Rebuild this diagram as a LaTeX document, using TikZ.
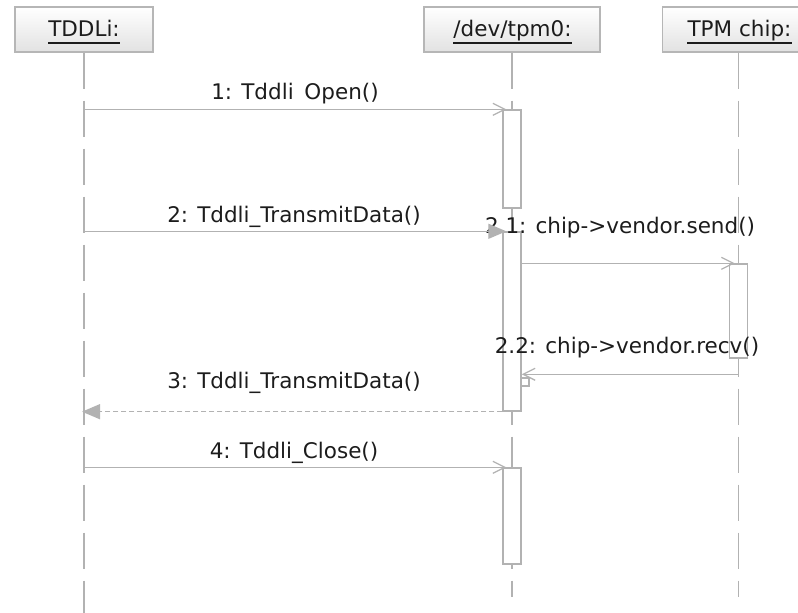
\documentclass[tikz,border=0pt]{standalone}
\usepackage{fontspec}
\setmainfont{DejaVu Sans}
\usetikzlibrary{arrows.meta}

\definecolor{linegray}{RGB}{178,178,178}
\definecolor{boxedge}{RGB}{182,182,182}
\definecolor{shadebot}{RGB}{226,226,226}
\definecolor{ink}{RGB}{28,28,28}

\begin{document}
\begin{tikzpicture}[x=1pt,y=-1pt,
  every node/.style={font=\fontsize{21.5}{26}\selectfont, text=ink},
  header/.style={draw=boxedge, line width=1.2pt, top color=white, bottom color=shadebot,
    minimum height=45pt, inner sep=0pt},
  htext/.style={inner sep=0pt, anchor=base},
  uline/.style={draw=ink, line width=1.8pt},
  lifeline/.style={draw=linegray, line width=1.8pt, dash pattern=on 36.5pt off 11.5pt},
  actbar/.style={draw=linegray, fill=white, line width=1.4pt, minimum width=18pt, inner sep=0pt},
  msg/.style={draw=linegray, line width=1.3pt},
  call/.style={msg, -{Straight Barb[length=12pt,width=12pt,line width=1.3pt]}},
  sync/.style={msg, -{Triangle[length=18pt,width=15pt]}},
  reply/.style={msg, dash pattern=on 5pt off 3pt, -{Triangle[length=18pt,width=15pt]}},
  mlabel/.style={inner sep=0pt, anchor=base},
]
\useasboundingbox (0,0) rectangle (798,613);
\clip (0,0) rectangle (798,613);

% participants
\node[header, minimum width=138pt] (hA) at (84,29.5) {};
\node[header, minimum width=176pt] (hB) at (512,29.5) {};
\node[header, minimum width=152pt] (hC) at (738.5,29.5) {};

\node[htext] (tA) at (84,36) {TDDLi:};
\node[htext] (tB) at (512.5,36) {/dev/tpm0:};
\node[htext] (tC) at (739.5,36) {TPM chip:};
\foreach \t in {tA,tB,tC}
  \draw[uline] ([yshift=-7pt]\t.base west) -- ([yshift=-7pt]\t.base east);

% lifelines
\coordinate (endA) at (84,630);
\coordinate (endB) at (512,597);
\coordinate (endC) at (738.5,597);
\draw[lifeline] (hA.south) -- (endA);
\draw[lifeline] (hB.south) -- (endB);
\draw[lifeline] (hC.south) -- (endC);

% activation bars
\node[actbar, minimum height=98pt]  (b1) at (512,159) {};
\node[actbar, minimum height=179pt] (b2) at (512,321.5) {};
\node[actbar, minimum height=96pt]  (b3) at (512,516) {};
\node[actbar, minimum height=94pt]  (bc) at (738.5,311) {};
\node[actbar, minimum width=8pt, minimum height=8pt] (bs) at (525,382) {};

% message labels
\node[mlabel] (l1)  at (295,99)  {1: Tddli\phantom{\_}Open()};
\node[mlabel] (l2)  at (294,222) {2: Tddli\_TransmitData()};
\node[mlabel] (l21) at (620,233) {2.1: chip->vendor.send()};
\node[mlabel] (l22) at (627,353) {2.2: chip->vendor.recv()};
\node[mlabel] (l3)  at (294,388) {3: Tddli\_TransmitData()};
\node[mlabel] (l4)  at (294,458) {4: Tddli\_Close()};

% messages
\draw[call]  (hA.south |- b1.north) -- ([xshift=4pt]b1.north west);
\draw[sync]  (hA.south |- b2.north) -- ([xshift=4pt]b2.north west);
\draw[call]  (b2.east |- bc.north) -- ([xshift=6pt]bc.north west);
\draw[call]  (bc.south) |- ([yshift=3pt]b2.east |- bs.north);
\draw[reply] (b2.south west) -- ([xshift=-2pt]hA.south |- b2.south);
\draw[call]  (hA.south |- b3.north) -- ([xshift=4pt]b3.north west);
\end{tikzpicture}
\end{document}
